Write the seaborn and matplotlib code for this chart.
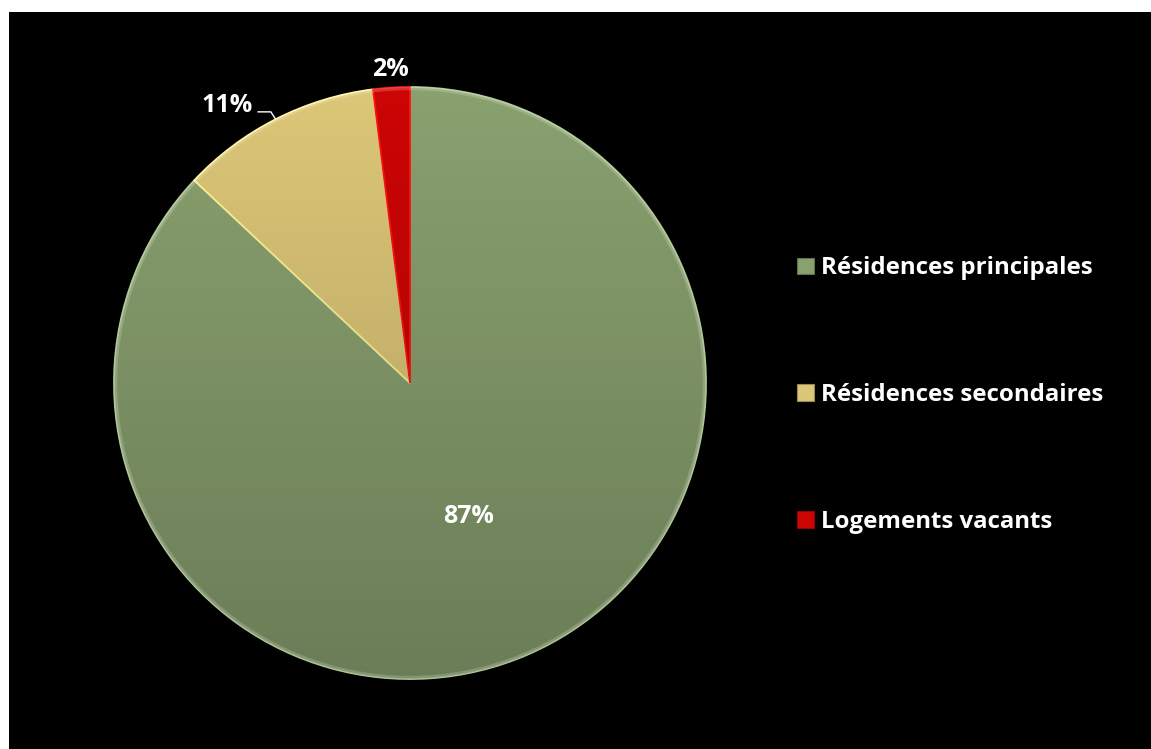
import numpy as np
import matplotlib
matplotlib.use("Agg")
import matplotlib.pyplot as plt
import matplotlib.colors as mcolors
from matplotlib.patches import Rectangle, Circle
import seaborn as sns

# Housing stock breakdown (percent)
categories = ["Résidences principales", "Résidences secondaires", "Logements vacants"]
values = [87, 11, 2]
colors = ["#89a06f", "#dcc677", "#cc0505"]

sns.set_theme(style="white")
plt.rcParams["font.family"] = ["Open Sans", "DejaVu Sans"]
palette = sns.color_palette(colors)

W, H = 1151, 749
fig = plt.figure(figsize=(W / 100, H / 100), dpi=100, facecolor="white")

# black panel with a thin white margin on the top and left
fig.add_artist(Rectangle((9 / W, 0), 1 - 9 / W, (H - 12) / H,
                         transform=fig.transFigure, facecolor="black",
                         edgecolor="none", zorder=0))

cx, cy, r = 410, 383, 296
ax = fig.add_axes([(cx - r) / W, (H - cy - r) / H, 2 * r / W, 2 * r / H])
ax.set_facecolor("none")
ax.patch.set_alpha(0)

wedges, _ = ax.pie(values, colors=palette, startangle=90, counterclock=False,
                   radius=1.0, wedgeprops=dict(linewidth=1.3))
for w, c in zip(wedges, colors):
    light = np.clip(np.array(mcolors.to_rgb(c)) * 1.18 + 0.05, 0, 1)
    w.set_edgecolor(light)

# soft vertical shading over the pie
shade = np.zeros((256, 1, 4))
shade[:, 0, 3] = np.linspace(0.0, 0.22, 256)
clip = Circle((0, 0), 1.0, transform=ax.transData)
im = ax.imshow(shade, extent=(-1, 1, -1, 1), aspect="auto", zorder=3,
               interpolation="bilinear", origin="upper")
im.set_clip_path(clip)
ax.add_patch(Circle((0, 0), 0.995, facecolor="none",
                    edgecolor=(1, 1, 1, 0.18), linewidth=2.5, zorder=4))

ax.set_xlim(-1, 1)
ax.set_ylim(-1, 1)
ax.set_aspect("equal")
ax.axis("off")

txt = dict(color="white", fontsize=18, fontweight="bold", zorder=6)

# main slice label inside
w0 = wedges[0]
a0 = np.deg2rad((w0.theta1 + w0.theta2) / 2)
ax.text(0.495 * np.cos(a0), 0.49 * np.sin(a0), f"{values[0]}%",
        ha="center", va="center", **txt)

# second slice: label to the upper left with a leader line
w1 = wedges[1]
a1 = np.deg2rad((w1.theta1 + w1.theta2) / 2)
ex, ey = np.cos(a1), np.sin(a1)
ax.plot([ex - 0.06, ex - 0.016, ex], [ey + 0.025, ey + 0.025, ey],
        color="white", lw=1.0, clip_on=False, zorder=6)
ax.text(ex - 0.078, ey + 0.048, f"{values[1]}%", ha="right", va="center", **txt)

# small slice: label just outside
w2 = wedges[2]
a2 = np.deg2rad((w2.theta1 + w2.theta2) / 2)
ax.text(1.06 * np.cos(a2), 1.06 * np.sin(a2), f"{values[2]}%",
        ha="center", va="center", **txt)

handles = [Rectangle((0, 0), 1, 1, facecolor=c,
                     edgecolor=np.array(mcolors.to_rgb(c)) * 0.7, linewidth=0.8)
           for c in colors]
leg = fig.legend(handles, categories, loc="center left",
                 bbox_to_anchor=(797 / W, 1 - 395 / H), frameon=False,
                 labelcolor="white", prop=dict(weight="bold", size=17.3),
                 handlelength=0.7, handleheight=0.7, handletextpad=0.3,
                 labelspacing=4.27, borderpad=0, borderaxespad=0)

fig.savefig("out.png", dpi=100, facecolor="white")
